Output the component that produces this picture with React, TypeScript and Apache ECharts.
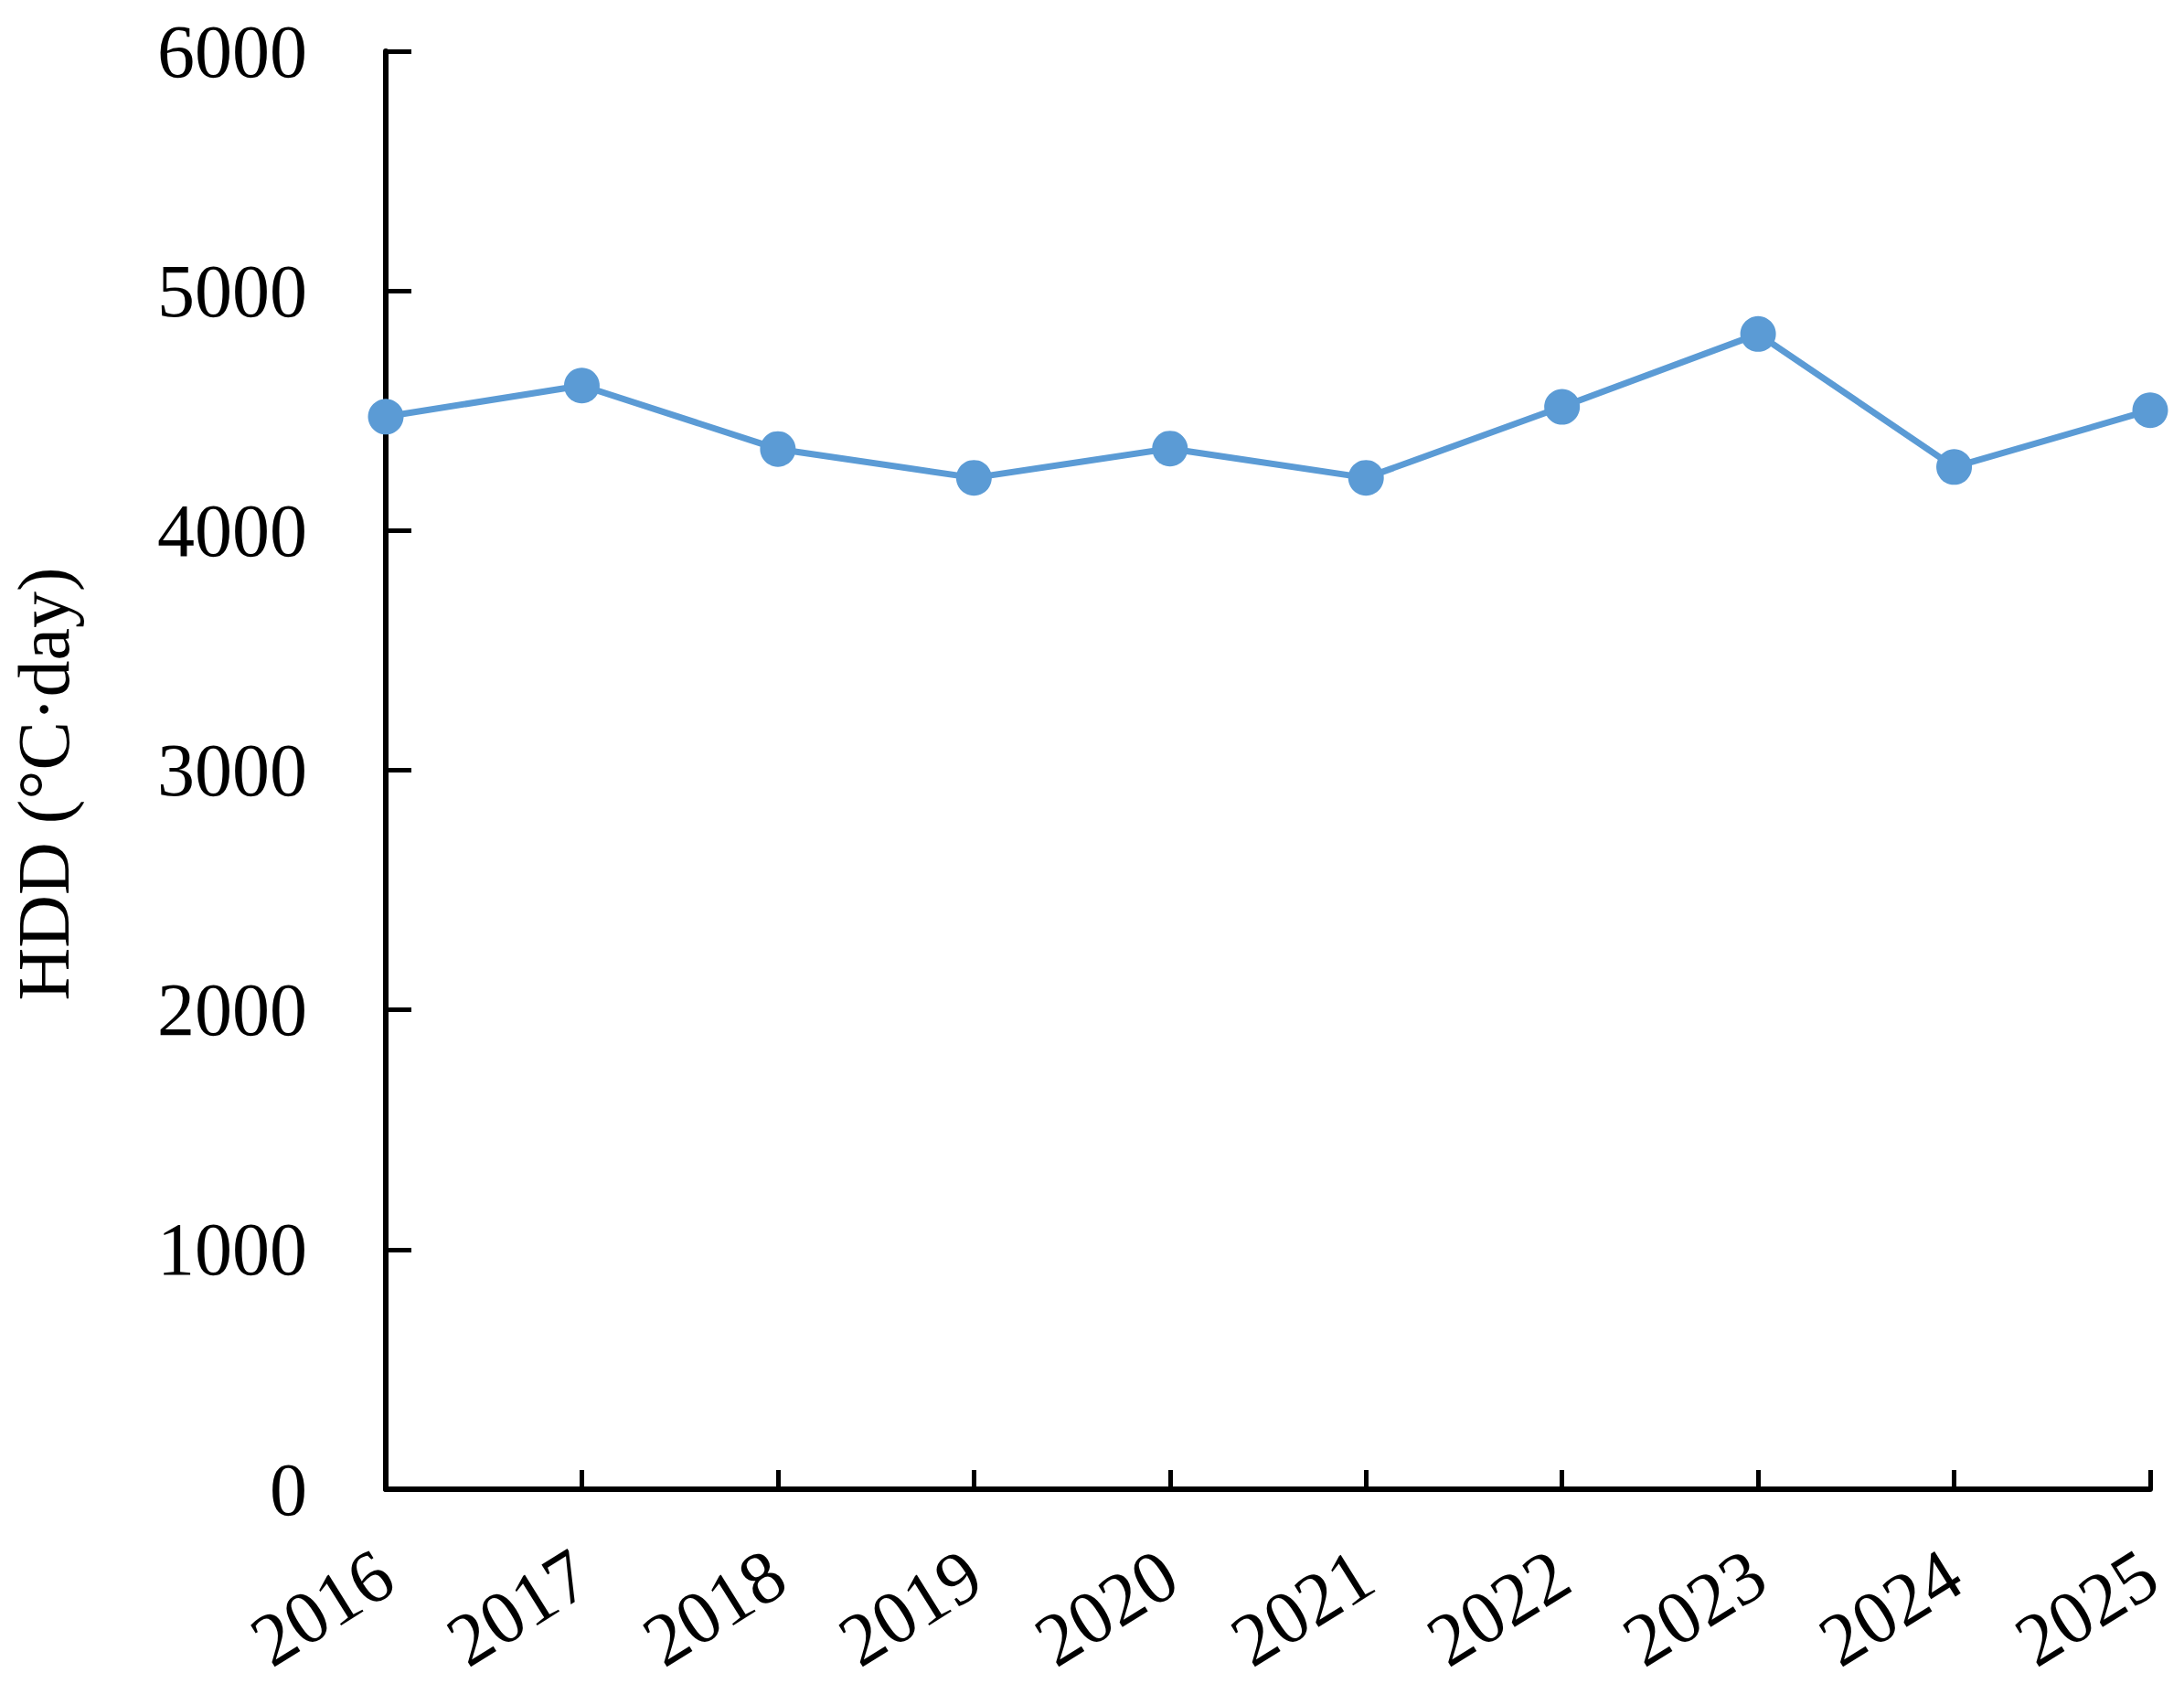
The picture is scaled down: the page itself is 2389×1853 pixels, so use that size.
import React, { useEffect, useRef } from "react";
import * as echarts from "echarts";

const years = ["2016", "2017", "2018", "2019", "2020", "2021", "2022", "2023", "2024", "2025"];
const hdd = [4475, 4605, 4340, 4220, 4342, 4220, 4516, 4820, 4265, 4502];
const yTicks = { min: 0, max: 6000, interval: 1000 };
const yName = "HDD (°C·day)";

const FONT = "'Liberation Serif', 'Times New Roman', serif";

export default function App() {
  const ref = useRef<HTMLDivElement>(null);
  useEffect(() => {
    if (!ref.current) return;
    const chart = echarts.init(ref.current, undefined, { renderer: "svg" });
    chart.setOption({
      animation: false,
      backgroundColor: "#ffffff",
      grid: { left: 420, top: 56, right: 37, bottom: 224, containLabel: false },
      xAxis: {
        type: "category",
        data: years,
        boundaryGap: false,
        axisLine: { show: true, lineStyle: { color: "#000", width: 6 } },
        axisTick: { show: true, inside: true, length: 21, lineStyle: { color: "#000", width: 5 } },
        axisLabel: {
          rotate: 32,
          margin: 86,
          fontSize: 82,
          fontFamily: FONT,
          color: "#000",
          interval: 0,
        },
        splitLine: { show: false },
      },
      yAxis: {
        type: "value",
        min: yTicks.min,
        max: yTicks.max,
        interval: yTicks.interval,
        name: yName,
        nameLocation: "middle",
        nameRotate: 90,
        nameGap: 334,
        nameTextStyle: { fontSize: 80, fontFamily: FONT, color: "#000", padding: [0, 30, 0, 0] },
        axisLine: { show: true, lineStyle: { color: "#000", width: 6 } },
        axisTick: { show: true, inside: true, length: 28, lineStyle: { color: "#000", width: 5 } },
        axisLabel: {
          margin: 86,
          fontSize: 82,
          fontFamily: FONT,
          color: "#000",
          formatter: (v: number) => String(v),
        },
        splitLine: { show: false },
      },
      series: [
        {
          type: "line",
          data: hdd,
          symbol: "circle",
          symbolSize: 39,
          lineStyle: { color: "#5B9BD5", width: 7 },
          itemStyle: { color: "#5B9BD5" },
        },
      ],
    });
    return () => chart.dispose();
  }, []);
  return (
    <div
      ref={ref}
      style={{ position: "absolute", left: 0, top: 0, width: 2389, height: 1853, background: "#fff" }}
    />
  );
}
